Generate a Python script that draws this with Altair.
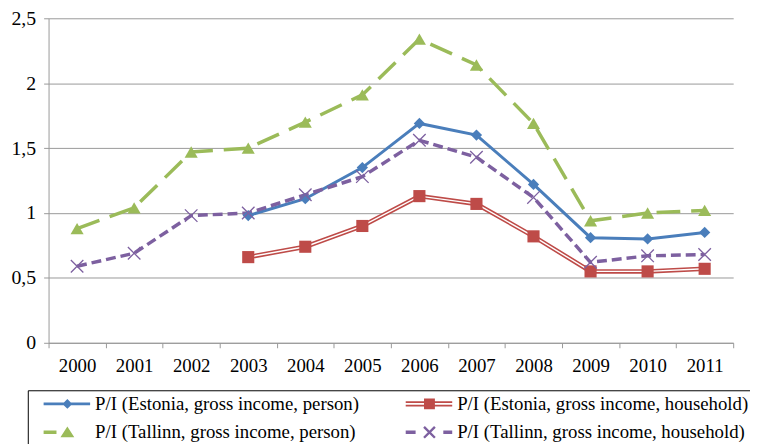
import altair as alt
import pandas as pd

years = [2000, 2001, 2002, 2003, 2004, 2005, 2006, 2007, 2008, 2009, 2010, 2011]
est_person = [None, None, None, 0.98, 1.11, 1.35, 1.69, 1.60, 1.22, 0.81, 0.80, 0.85]
est_household = [None, None, None, 0.66, 0.74, 0.90, 1.13, 1.07, 0.82, 0.55, 0.55, 0.57]
tal_person = [0.88, 1.04, 1.47, 1.50, 1.70, 1.91, 2.34, 2.14, 1.69, 0.94, 1.00, 1.02]
tal_household = [0.59, 0.69, 0.98, 1.00, 1.14, 1.28, 1.56, 1.43, 1.12, 0.62, 0.67, 0.68]

names = [
    "P/I (Estonia, gross income, person)",
    "P/I (Estonia, gross income, household)",
    "P/I (Tallinn, gross income, person)",
    "P/I (Tallinn, gross income, household)",
]
series_values = [est_person, est_household, tal_person, tal_household]
colors = ["#4a7ebb", "#be4b48", "#9bbb59", "#7d60a0"]

rows = []
for name, vals in zip(names, series_values):
    for yr, v in zip(years, vals):
        if v is not None:
            rows.append({"year": str(yr), "value": v, "series": name})
df = pd.DataFrame(rows)

FONT = "Liberation Serif"
GRID = "#999999"

# ---- legend symbol paths (line + marker), in symbol units ----
R = 9.5      # half of nominal symbol box (sqrt(361)/2)
D = 12.0     # drawn start offset from nominal left edge


def u(px):
    return (D + px - R) / R


def v(py):
    return py / R


def rect(x0, x1, y0, y1):
    return f"M{u(x0):.3f},{v(y0):.3f}L{u(x1):.3f},{v(y0):.3f}L{u(x1):.3f},{v(y1):.3f}L{u(x0):.3f},{v(y1):.3f}Z"


def poly(pts):
    return "M" + "L".join(f"{u(x):.3f},{v(y):.3f}" for x, y in pts) + "Z"


cx = 24
blue_path = rect(0, 47, -1.5, 1.5) + poly([(cx - 5, 0), (cx, -5), (cx + 5, 0), (cx, 5)])
red_path = rect(0, 47, -2.6, -0.9) + rect(0, 47, 0.9, 2.6) + poly([(cx - 5.5, -5.5), (cx + 5.5, -5.5), (cx + 5.5, 5.5), (cx - 5.5, 5.5)])
green_path = rect(0, 13, -1.75, 1.75) + poly([(cx, -6), (cx + 7, 5), (cx - 7, 5)])
h, t = 5.5, 0.85
arm1 = [(cx - h + t, -h - t), (cx + h + t, h - t), (cx + h - t, h + t), (cx - h - t, -h + t)]
arm2 = [(cx + h - t, -h - t), (cx + h + t, -h + t), (cx - h + t, h + t), (cx - h - t, h - t)]
purple_path = rect(0, 10, -1.75, 1.75) + rect(38, 47, -1.75, 1.75) + poly(arm1) + poly(arm2)
legend_paths = [blue_path, red_path, green_path, purple_path]

# ---- axes ----
x_enc = alt.X(
    "year:O",
    bandPosition=0.5,
    scale=alt.Scale(type="band", domain=[str(y) for y in years], paddingInner=0, paddingOuter=0),
    axis=alt.Axis(
        tickBand="extent",
        tickSize=5,
        labelPadding=9,
        labelAngle=0,
        labelFontSize=19,
        grid=False,
        title=None,
    ),
)
y_enc = alt.Y(
    "value:Q",
    scale=alt.Scale(domain=[0, 2.5], nice=False),
    axis=alt.Axis(
        values=[0, 0.5, 1, 1.5, 2, 2.5],
        labelExpr="replace(toString(datum.value), '.', ',')",
        tickSize=5,
        labelPadding=8,
        labelFontSize=20,
        grid=True,
        title=None,
    ),
)

base = alt.Chart(df)
layers = []

styles = {
    names[0]: dict(strokeWidth=3),
    names[1]: dict(strokeWidth=4.6),
    names[2]: dict(strokeWidth=3.5, strokeDash=[24, 11]),
    names[3]: dict(strokeWidth=3.5, strokeDash=[10, 5]),
}
for name, col in zip(names, colors):
    layers.append(
        base.transform_filter(alt.datum.series == name)
        .mark_line(color=col, **styles[name])
        .encode(x=x_enc, y=y_enc)
    )
# inner white line for the double red line
layers.append(
    base.transform_filter(alt.datum.series == names[1])
    .mark_line(color="white", strokeWidth=1.4)
    .encode(x=x_enc, y=y_enc)
)

point_styles = [
    dict(shape="diamond", size=130, filled=True),
    dict(shape="square", size=150, filled=True),
    dict(shape="triangle-up", size=175, filled=True),
    dict(shape="M-1,-1L1,1M-1,1L1,-1", size=160, filled=False, strokeWidth=1.3),
]
for name, col, ps in zip(names, colors, point_styles):
    layers.append(
        base.transform_filter(alt.datum.series == name)
        .mark_point(color=col, opacity=1, **ps)
        .encode(x=x_enc, y=y_enc)
    )

legend = alt.Legend(
    orient="none",
    direction="horizontal",
    legendX=-21,
    legendY=376,
    columns=2,
    columnPadding=34,
    rowPadding=9,
    symbolSize=361,
    symbolStrokeWidth=0,
    symbolOpacity=1,
    labelFont=FONT,
    labelFontSize=19,
    labelColor="#000000",
    labelLimit=600,
    labelOffset=45,
    padding=4,
    strokeColor="#000000",
    fillColor="white",
    title=None,
)
legend_layer = (
    base.transform_filter("false")
    .mark_point(filled=True, opacity=1)
    .encode(
        x=x_enc,
        y=y_enc,
        color=alt.Color("series:N", scale=alt.Scale(domain=names, range=colors), legend=legend),
        shape=alt.Shape("series:N", scale=alt.Scale(domain=names, range=legend_paths), legend=legend),
    )
)
layers.append(legend_layer)

chart = (
    alt.layer(*layers)
    .properties(
        width=692,
        height=328,
        autosize=alt.AutoSizeParams(type="none"),
        padding={"left": 41, "top": 8, "right": 17, "bottom": 110},
        background="white",
    )
    .configure_view(strokeWidth=0)
    .configure_axis(
        labelFont=FONT,
        labelColor="#000000",
        domainColor=GRID,
        tickColor=GRID,
        gridColor=GRID,
        gridWidth=1,
        domainWidth=1,
        tickWidth=1,
    )
)

chart.save("out.html", embed_options={"renderer": "svg", "actions": False})
